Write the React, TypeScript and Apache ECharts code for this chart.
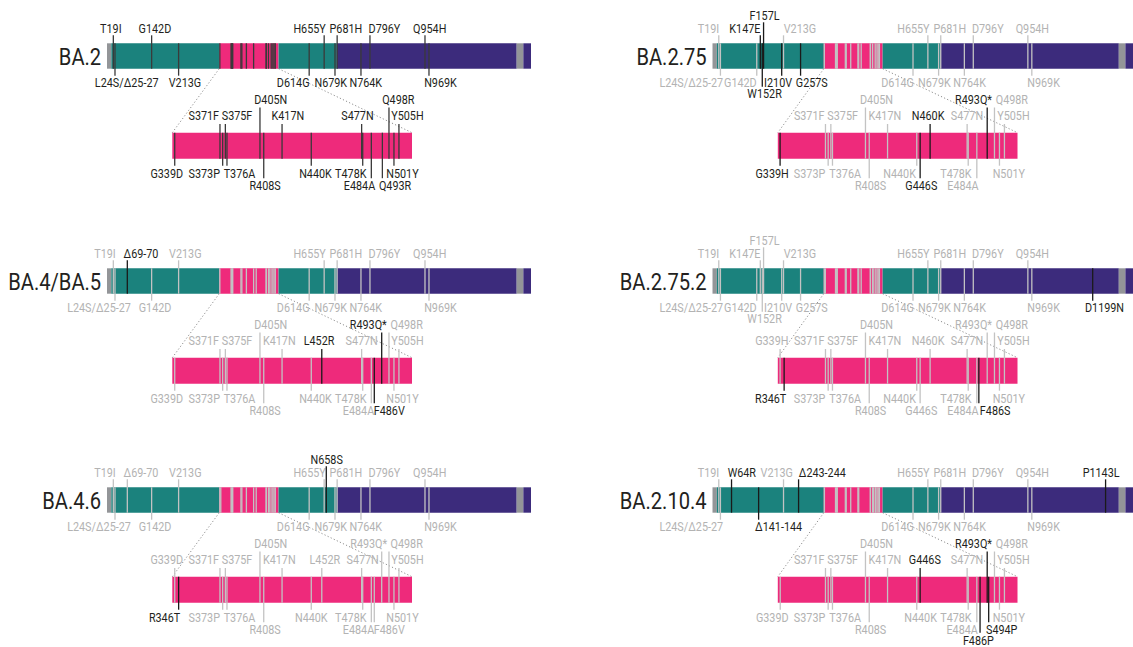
import React, { useEffect, useRef } from "react";
import * as echarts from "echarts";

// ---------------- DATA ----------------
const VARIANTS = ["BA.2", "BA.2.75", "BA.4/BA.5", "BA.2.75.2", "BA.4.6", "BA.2.10.4"];

const SPIKE_LENGTH = 1273;
const RBD_RANGE = [337, 515];
// spike domains (residue ranges as drawn)
const DOMAIN_START = [0, 13, 337, 515, 690, 1230, 1250];
const DOMAIN_END = [13, 337, 515, 690, 1230, 1250, 1273];
const DOMAIN_KIND = ["sp", "s1", "rbd", "s1", "s2", "tm", "s2"];

// drawn site of each spike mutation (residue units, as placed in the figure)
const SPIKE_SITE: Record<string, number> = {
  "T19I": 19, "L24S/Δ25-27": 24, "W64R": 57.6, "Δ69-70": 61, "G142D": 134, "Δ141-144": 139.6,
  "K147E": 144.7, "W152R": 150.7, "F157L": 154.6, "I210V": 209.5, "V213G": 215,
  "Δ243-244": 260.6, "G257S": 266.6, "D614G": 607, "H655Y": 652, "N658S": 658.4,
  "N679K": 684.5, "P681H": 691, "N764K": 762.5, "D796Y": 789.5, "Q954H": 954.7,
  "N969K": 966.7, "D1199N": 1151, "P1143L": 1190,
};
// drawn site of each RBD mutation
const RBD_SITE: Record<string, number> = {
  "G339D": 338.8, "G339H": 338.7, "R346T": 341.7, "S371F": 372.4, "S373P": 374.4, "S375F": 376.4,
  "T376A": 377.6, "D405N": 402.1, "R408S": 404.9, "K417N": 418.5, "N440K": 440.2, "G446S": 442.7,
  "L452R": 448, "N460K": 450.1, "S477N": 477.6, "T478K": 478.4, "E484A": 484.8, "F486V": 487,
  "F486S": 486.3, "F486P": 487.2, "R493Q*": 492.5, "Q493R": 493, "S494P": 493.6, "Q498R": 497.9,
  "N501Y": 501.6, "Y505H": 505.3,
};

const SPIKE_BA2 = ["T19I", "L24S/Δ25-27", "G142D", "V213G", "D614G", "H655Y", "N679K", "P681H", "N764K", "D796Y", "Q954H", "N969K"];
const SPIKE_BA275 = ["T19I", "L24S/Δ25-27", "G142D", "K147E", "W152R", "F157L", "I210V", "V213G", "G257S", "D614G", "H655Y", "N679K", "P681H", "N764K", "D796Y", "Q954H", "N969K"];
const SPIKE_BA45 = ["T19I", "L24S/Δ25-27", "Δ69-70", "G142D", "V213G", "D614G", "H655Y", "N679K", "P681H", "N764K", "D796Y", "Q954H", "N969K"];
const SPIKE_BA2752 = [...SPIKE_BA275, "D1199N"];
const SPIKE_BA46 = [...SPIKE_BA45, "N658S"];
const SPIKE_BA2104 = ["T19I", "L24S/Δ25-27", "W64R", "Δ141-144", "V213G", "Δ243-244", "D614G", "H655Y", "N679K", "P681H", "N764K", "D796Y", "Q954H", "N969K", "P1143L"];
const SPIKE_MUTS = [SPIKE_BA2, SPIKE_BA275, SPIKE_BA45, SPIKE_BA2752, SPIKE_BA46, SPIKE_BA2104];

const RBD_BA2 = ["G339D", "S371F", "S373P", "S375F", "T376A", "D405N", "R408S", "K417N", "N440K", "S477N", "T478K", "E484A", "Q493R", "Q498R", "N501Y", "Y505H"];
const RBD_BA275 = ["G339H", "S371F", "S373P", "S375F", "T376A", "D405N", "R408S", "K417N", "N440K", "G446S", "N460K", "S477N", "T478K", "E484A", "R493Q*", "Q498R", "N501Y", "Y505H"];
const RBD_BA45 = ["G339D", "S371F", "S373P", "S375F", "T376A", "D405N", "R408S", "K417N", "N440K", "L452R", "S477N", "T478K", "E484A", "F486V", "R493Q*", "Q498R", "N501Y", "Y505H"];
const RBD_BA2752 = ["G339H", "R346T", "S371F", "S373P", "S375F", "T376A", "D405N", "R408S", "K417N", "N440K", "G446S", "N460K", "S477N", "T478K", "E484A", "F486S", "R493Q*", "Q498R", "N501Y", "Y505H"];
const RBD_BA46 = ["G339D", "R346T", "S371F", "S373P", "S375F", "T376A", "D405N", "R408S", "K417N", "N440K", "L452R", "S477N", "T478K", "E484A", "F486V", "R493Q*", "Q498R", "N501Y", "Y505H"];
const RBD_BA2104 = ["G339D", "S371F", "S373P", "S375F", "T376A", "D405N", "R408S", "K417N", "N440K", "G446S", "S477N", "T478K", "E484A", "F486P", "R493Q*", "S494P", "Q498R", "N501Y", "Y505H"];
const RBD_MUTS = [RBD_BA2, RBD_BA275, RBD_BA45, RBD_BA2752, RBD_BA46, RBD_BA2104];

// mutations new relative to the parent lineage (highlighted)
const NEW_MUTS = [
  [] as string[],
  ["K147E", "W152R", "F157L", "I210V", "G257S", "G339H", "G446S", "N460K", "R493Q*"],
  ["Δ69-70", "L452R", "F486V", "R493Q*"],
  ["D1199N", "R346T", "F486S"],
  ["N658S", "R346T"],
  ["W64R", "Δ141-144", "Δ243-244", "P1143L", "G446S", "R493Q*", "S494P", "F486P"],
];

// ---------------- LAYOUT (label placement: [row, dx px]) ----------------
type Lay = Record<string, [number, number]>;
const TOP_LAY_BA2: Lay = { "T19I": [1, -2.5], "G142D": [1, 3.3], "H655Y": [1, -14.6], "P681H": [1, 8.7], "D796Y": [1, 14.5], "Q954H": [1, 4.7], "L24S/Δ25-27": [-1, 11.7], "V213G": [-1, 6.3], "D614G": [-1, -16], "N679K": [-1, -4.2], "N764K": [-1, 4.8], "N969K": [-1, 11.5] };
const TOP_LAY_BA275: Lay = { "F157L": [2, 1], "T19I": [1, -10.3], "K147E": [1, -15.4], "V213G": [1, 16.4], "H655Y": [1, -14.5], "P681H": [1, 9], "D796Y": [1, 14.5], "Q954H": [1, 4.5], "L24S/Δ25-27": [-1, -29.2], "G142D": [-1, -16.4], "I210V": [-1, -3.6], "G257S": [-1, 11.2], "W152R": [-2, 2.3], "D614G": [-1, -15.4], "N679K": [-1, -4.2], "N764K": [-1, 5.2], "N969K": [-1, 11.8] };
const TOP_LAY_BA45: Lay = { "T19I": [1, -8.3], "Δ69-70": [1, 13.7], "V213G": [1, 6.7], "H655Y": [1, -14.6], "P681H": [1, 8.7], "D796Y": [1, 14.5], "Q954H": [1, 4.7], "L24S/Δ25-27": [-1, -16], "G142D": [-1, 3.4], "D614G": [-1, -16], "N679K": [-1, -4.2], "N764K": [-1, 4.8], "N969K": [-1, 11.5] };
const TOP_LAY_BA2752: Lay = { ...TOP_LAY_BA275, "D1199N": [-1, 11.8] };
const TOP_LAY_BA46: Lay = { ...TOP_LAY_BA45, "N658S": [2, 0.4] };
const TOP_LAY_BA2104: Lay = { "T19I": [1, -10.3], "W64R": [1, 10.3], "V213G": [1, -6.8], "Δ243-244": [1, 23.7], "H655Y": [1, -14.5], "P681H": [1, 9], "D796Y": [1, 14.5], "Q954H": [1, 4.5], "P1143L": [1, -4.5], "L24S/Δ25-27": [-1, -29.2], "Δ141-144": [-1, 20], "D614G": [-1, -15.4], "N679K": [-1, -4.2], "N764K": [-1, 5.2], "N969K": [-1, 11.8] };
const TOP_LAYOUTS = [TOP_LAY_BA2, TOP_LAY_BA275, TOP_LAY_BA45, TOP_LAY_BA2752, TOP_LAY_BA46, TOP_LAY_BA2104];

const RBD_LAY_BA2: Lay = { "S371F": [1, -16.2], "S375F": [1, 11.7], "D405N": [2, 10.8], "K417N": [1, 5.8], "S477N": [1, -4.2], "Q498R": [2, 9.3], "Y505H": [1, 8.5], "G339D": [-1, -8], "S373P": [-1, -18.4], "T376A": [-1, 12.5], "R408S": [-2, 1.3], "N440K": [-1, 4.2], "T478K": [-1, -11.9], "E484A": [-2, -11.8], "Q493R": [-2, 12.7], "N501Y": [-1, 8.5] };
const RBD_LAY_BA275: Lay = { "G339H": [-1, -8], "S371F": [1, -16.3], "S373P": [-1, -18.6], "S375F": [1, 11.8], "T376A": [-1, 12.7], "D405N": [2, 11], "R408S": [-2, 1.3], "K417N": [1, -2.7], "N440K": [-1, -17.2], "G446S": [-2, 1.2], "N460K": [1, -2], "S477N": [1, -0.2], "T478K": [-1, -12.3], "E484A": [-2, -13.9], "R493Q*": [2, -13.7], "Q498R": [2, 17.4], "N501Y": [-1, 9.4], "Y505H": [1, 9] };
const RBD_LAY_BA45: Lay = { "G339D": [-1, -8], "S371F": [1, -16.2], "S373P": [-1, -18.4], "S375F": [1, 11.7], "T376A": [-1, 12.5], "D405N": [2, 10.8], "R408S": [-2, 1.3], "K417N": [1, -2.8], "N440K": [-1, 4.2], "L452R": [1, -2.7], "S477N": [1, 0], "T478K": [-1, -11.9], "E484A": [-2, -12.8], "F486V": [-2, 15], "R493Q*": [2, -13.4], "Q498R": [2, 17.7], "N501Y": [-1, 8.5], "Y505H": [1, 8.5] };
const RBD_LAY_BA2752: Lay = { "G339H": [1, -8.3], "R346T": [-1, -13.5], "S371F": [1, -16.3], "S373P": [-1, -18.6], "S375F": [1, 11.8], "T376A": [-1, 12.7], "D405N": [2, 11], "R408S": [-2, 1.3], "K417N": [1, -2.7], "N440K": [-1, -17.2], "G446S": [-2, 1.2], "N460K": [1, -2], "S477N": [1, -0.2], "T478K": [-1, -12.3], "E484A": [-2, -13.9], "F486S": [-2, 16.3], "R493Q*": [2, -13.7], "Q498R": [2, 17.4], "N501Y": [-1, 9.4], "Y505H": [1, 9] };
const RBD_LAY_BA46: Lay = { "G339D": [1, -8], "R346T": [-1, -14.1], "S371F": [1, -16.2], "S373P": [-1, -18.4], "S375F": [1, 11.7], "T376A": [-1, 12.5], "D405N": [2, 10.8], "R408S": [-2, 1.3], "K417N": [1, -2.8], "N440K": [-1, 0], "L452R": [1, 3], "S477N": [1, 1], "T478K": [-1, -11.9], "E484A": [-2, -12.8], "F486V": [-2, 15], "R493Q*": [2, -13], "Q498R": [2, 17.7], "N501Y": [-1, 8.5], "Y505H": [1, 8.5] };
const RBD_LAY_BA2104: Lay = { "G339D": [-1, -8], "S371F": [1, -16.3], "S373P": [-1, -18.6], "S375F": [1, 11.8], "T376A": [-1, 12.7], "D405N": [2, 11], "R408S": [-2, 1.3], "K417N": [1, -2.7], "N440K": [-1, 3.8], "G446S": [1, 4.7], "S477N": [1, -0.2], "T478K": [-1, -12.3], "E484A": [-2, -14.7], "F486P": [-3, -1.7], "R493Q*": [2, -13.7], "S494P": [-2, 13], "Q498R": [2, 17.4], "N501Y": [-1, 9.4], "Y505H": [1, 9] };
const RBD_LAYOUTS = [RBD_LAY_BA2, RBD_LAY_BA275, RBD_LAY_BA45, RBD_LAY_BA2752, RBD_LAY_BA46, RBD_LAY_BA2104];

const COL_DX = [0, 605.5];
const ROW_DY = [0, 225, 444];
const TOP_BAR = { left: 107, top: 43.3, width: 424, height: 25.4 };
const RBD_BAR = { left: 172.3, top: 132.7, width: 239.7, height: 26 };
const TOP_ROWS = { above: [-15, -28], below: [14.5, 25.5], extA: 7, extB: 7.5 };
const RBD_ROWS = { above: [-16.7, -33.2], below: [15, 27.5, 38], extA: 8, extB: 8 };

const DOMAIN_COLOR: Record<string, string> = { sp: "#939598", s1: "#1b827d", rbd: "#ee2a7b", s2: "#3c2b7c", tm: "#939598" };
const C = { darkLine: "#3a3a3a", newLine: "#1a1a1a", oldLine: "#c3c3c3", darkText: "#231f20", oldText: "#b3b3b3", connector: "#8f8f8f" };
const FONT = "Roboto, sans-serif";
const LABEL_SIZE = 12;
const LABEL_SCALE_X = 0.9;
const TITLE_SIZE = 24;
const TITLE_SCALE_X = 0.84;

function mutationSeries(axisIdx: number, names: string[], newSet: string[], site: Record<string, number>, layout: Lay, rows: any, dark: boolean) {
  const ordered = [...names.filter((n) => !newSet.includes(n)), ...names.filter((n) => newSet.includes(n))];
  return {
    type: "custom",
    xAxisIndex: axisIdx,
    yAxisIndex: axisIdx,
    silent: true,
    z: 3,
    data: ordered.map((n) => [site[n], newSet.includes(n) ? 1 : 0]),
    renderItem: (params: any, api: any) => {
      const name = ordered[params.dataIndex];
      const pos = api.value(0);
      const isNew = api.value(1) === 1;
      const t = api.coord([pos, 1]);
      const b = api.coord([pos, 0]);
      const x = t[0];
      let y1 = t[1];
      let y2 = b[1];
      const lineColor = dark ? C.darkLine : isNew ? C.newLine : C.oldLine;
      const textColor = dark || isNew ? C.darkText : C.oldText;
      const children: any[] = [];
      const lay = layout[name];
      if (lay) {
        const [row, dx] = lay;
        let cy: number;
        if (row > 0) {
          cy = t[1] + rows.above[row - 1];
          y1 = cy + rows.extA;
        } else {
          cy = b[1] + rows.below[-row - 1];
          y2 = cy - rows.extB;
        }
        children.push({
          type: "text",
          x: x + dx,
          y: cy,
          scaleX: LABEL_SCALE_X,
          style: { text: name, x: 0, y: 0, fill: textColor, fontSize: LABEL_SIZE, fontFamily: FONT, align: "center", verticalAlign: "middle" },
        });
      }
      children.push({ type: "line", shape: { x1: x, y1, x2: x, y2 }, style: { stroke: lineColor, lineWidth: 1.3 } });
      return { type: "group", children };
    },
  };
}

export default function App() {
  const ref = useRef<HTMLDivElement>(null);
  useEffect(() => {
    const chart = echarts.init(ref.current!, null, { renderer: "svg" });
    const grid: any[] = [];
    const xAxis: any[] = [];
    const yAxis: any[] = [];
    const series: any[] = [];
    const graphic: any[] = [];

    VARIANTS.forEach((variant, p) => {
      const ox = COL_DX[p % 2];
      const oy = ROW_DY[Math.floor(p / 2)];
      const gTop = 2 * p;
      const gRbd = 2 * p + 1;
      const dark = p === 0;
      grid.push({ left: TOP_BAR.left + ox, top: TOP_BAR.top + oy, width: TOP_BAR.width, height: TOP_BAR.height });
      grid.push({ left: RBD_BAR.left + ox, top: RBD_BAR.top + oy, width: RBD_BAR.width, height: RBD_BAR.height });
      xAxis.push({ type: "value", gridIndex: gTop, min: 0, max: SPIKE_LENGTH, show: false });
      xAxis.push({ type: "value", gridIndex: gRbd, min: RBD_RANGE[0], max: RBD_RANGE[1], show: false });
      yAxis.push({ type: "value", gridIndex: gTop, min: 0, max: 1, show: false });
      yAxis.push({ type: "value", gridIndex: gRbd, min: 0, max: 1, show: false });

      // spike domains
      series.push({
        type: "custom",
        xAxisIndex: gTop,
        yAxisIndex: gTop,
        silent: true,
        z: 1,
        data: DOMAIN_START.map((s, i) => [s, DOMAIN_END[i], i]),
        renderItem: (params: any, api: any) => {
          const a = api.coord([api.value(0), 1]);
          const b = api.coord([api.value(1), 0]);
          return {
            type: "rect",
            shape: { x: a[0], y: a[1], width: b[0] - a[0], height: b[1] - a[1] },
            style: { fill: DOMAIN_COLOR[DOMAIN_KIND[api.value(2)]] },
          };
        },
      });
      // RBD zoom bar
      series.push({
        type: "custom",
        xAxisIndex: gRbd,
        yAxisIndex: gRbd,
        silent: true,
        z: 1,
        data: [[RBD_RANGE[0], RBD_RANGE[1]]],
        renderItem: (params: any, api: any) => {
          const a = api.coord([api.value(0), 1]);
          const b = api.coord([api.value(1), 0]);
          return { type: "rect", shape: { x: a[0], y: a[1], width: b[0] - a[0], height: b[1] - a[1] }, style: { fill: DOMAIN_COLOR.rbd } };
        },
      });
      // RBD mutations inside the spike bar
      const rbdNames = RBD_MUTS[p];
      series.push({
        type: "custom",
        xAxisIndex: gTop,
        yAxisIndex: gTop,
        silent: true,
        z: 2,
        data: rbdNames.map((n) => [RBD_SITE[n]]),
        renderItem: (params: any, api: any) => {
          const a = api.coord([api.value(0), 1]);
          const b = api.coord([api.value(0), 0]);
          return { type: "line", shape: { x1: a[0], y1: a[1], x2: a[0], y2: b[1] }, style: { stroke: dark ? C.darkLine : C.oldLine, lineWidth: 1.3 } };
        },
      });
      series.push(mutationSeries(gTop, SPIKE_MUTS[p], NEW_MUTS[p], SPIKE_SITE, TOP_LAYOUTS[p], TOP_ROWS, dark));
      series.push(mutationSeries(gRbd, RBD_MUTS[p], NEW_MUTS[p], RBD_SITE, RBD_LAYOUTS[p], RBD_ROWS, dark));

      graphic.push({
        type: "text",
        x: 101.2 + ox,
        y: TOP_BAR.top + TOP_BAR.height / 2 + oy,
        scaleX: TITLE_SCALE_X,
        silent: true,
        style: { text: variant, x: 0, y: 0, fill: C.darkText, fontSize: TITLE_SIZE, fontFamily: FONT, align: "right", verticalAlign: "middle" },
      });
    });

    chart.setOption({ animation: false, grid, xAxis, yAxis, series, graphic });

    // dotted connectors between the RBD in the spike bar and the zoomed RBD bar
    VARIANTS.forEach((_, p) => {
      const gTop = 2 * p;
      const gRbd = 2 * p + 1;
      RBD_RANGE.forEach((r) => {
        const a = chart.convertToPixel({ xAxisIndex: gTop, yAxisIndex: gTop } as any, [r, 0]) as number[];
        const b = chart.convertToPixel({ xAxisIndex: gRbd, yAxisIndex: gRbd } as any, [r, 1]) as number[];
        graphic.push({
          type: "line",
          silent: true,
          z: 0,
          shape: { x1: a[0], y1: a[1], x2: b[0], y2: b[1] },
          style: { stroke: C.connector, lineWidth: 1, lineDash: [1.2, 2.2] },
        });
      });
    });
    chart.setOption({ graphic });

    return () => chart.dispose();
  }, []);
  return <div ref={ref} style={{ position: "absolute", left: 0, top: 0, width: 1133, height: 647 }} />;
}
